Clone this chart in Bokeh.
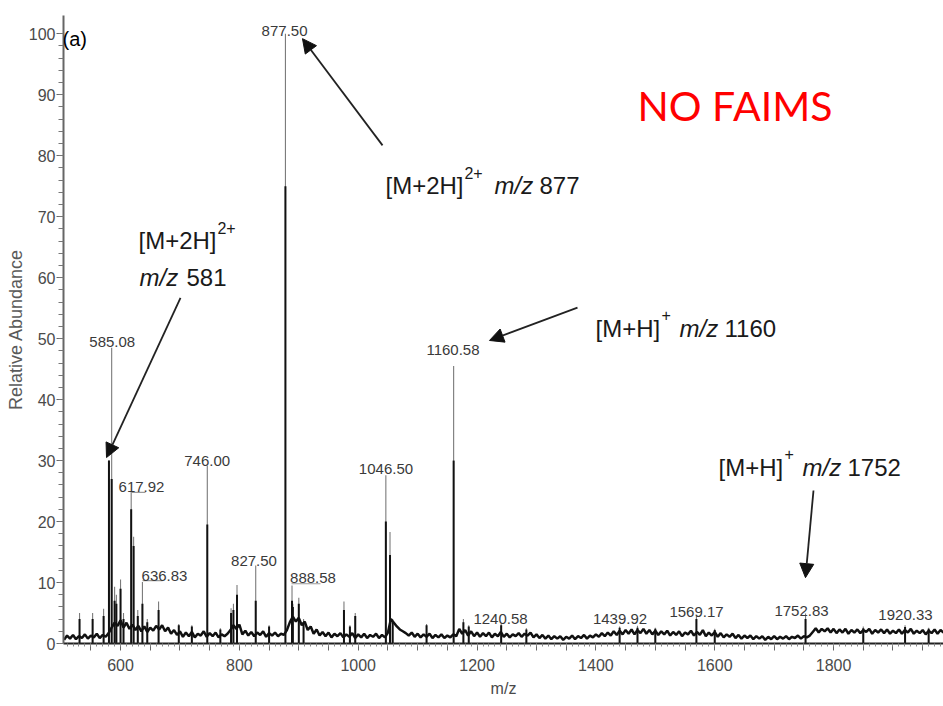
import numpy as np
from bokeh.plotting import figure
from bokeh.models import Range1d, FixedTicker, Arrow, NormalHead, Label
from bokeh.core.properties import value
from bokeh.embed import file_html
from bokeh.resources import INLINE

# ---------------- data ----------------
# baseline (noise band) sampled every 5 m/z from 505 to 1985
base_mz = np.arange(505, 1986, 5)
base_ab = [
    0.6, 1.3, 0.8, 1.4, 0.7, 1.2, 0.9, 1.5, 0.8, 1.3, 1.0, 1.6, 0.9, 1.4, 1.1, 1.7, 2.6, 3.4, 2.9, 3.8,
    2.6, 3.4, 2.4, 3.1, 2.2, 2.9, 2.0, 2.8, 1.9, 2.6, 2.1, 2.9, 2.3, 3.0, 2.0, 2.6, 1.6, 2.2, 1.4, 2.0,
    1.1, 1.8, 1.2, 1.9, 1.0, 1.6, 1.3, 2.0, 1.1, 1.7, 1.2, 1.8, 1.0, 1.5, 1.2, 1.6, 2.2, 3.0, 2.4, 3.1,
    1.5, 2.1, 1.3, 1.9, 1.2, 1.8, 1.4, 2.0, 1.1, 1.7, 1.3, 1.8, 1.2, 1.6, 1.4, 2.2, 3.5, 4.4, 3.6, 4.2,
    3.0, 3.6, 2.2, 2.8, 1.6, 2.3, 1.3, 1.9, 1.2, 1.8, 1.0, 1.6, 1.2, 1.7, 1.0, 1.5, 1.1, 1.7, 0.9, 1.5,
    1.0, 1.6, 0.9, 1.4, 1.1, 1.6, 0.9, 1.4, 1.0, 1.8, 4.0, 3.4, 2.8, 2.3, 2.0, 1.7, 1.3, 1.8, 1.1, 1.6,
    1.0, 1.5, 1.1, 1.6, 0.9, 1.4, 1.0, 1.5, 0.9, 1.3, 1.0, 1.5, 1.2, 2.4, 1.6, 2.2, 1.3, 2.0, 1.2, 1.8,
    1.1, 1.7, 1.2, 1.8, 1.0, 1.6, 1.2, 1.9, 1.1, 1.6, 1.0, 1.5, 1.2, 1.7, 1.1, 1.6, 1.3, 1.8, 1.0, 1.5,
    0.9, 1.4, 0.8, 1.3, 0.7, 1.2, 0.8, 1.2, 0.6, 1.1, 0.8, 1.3, 0.7, 1.2, 0.9, 1.4, 0.8, 1.3, 1.0, 1.5,
    1.1, 1.7, 1.2, 1.8, 1.3, 2.0, 1.4, 2.1, 1.5, 2.2, 1.6, 2.3, 1.5, 2.2, 1.7, 2.4, 1.6, 2.2, 1.5, 2.1,
    1.4, 2.0, 1.5, 2.1, 1.3, 1.9, 1.4, 2.0, 1.2, 1.8, 1.5, 2.1, 1.3, 1.9, 1.4, 2.2, 1.2, 1.8, 1.3, 1.9,
    1.1, 1.7, 1.0, 1.5, 1.1, 1.6, 0.9, 1.4, 0.8, 1.3, 0.9, 1.3, 0.7, 1.2, 0.8, 1.2, 0.6, 1.1, 0.7, 1.2,
    0.7, 1.1, 0.8, 1.2, 0.7, 1.1, 0.9, 1.3, 0.8, 1.2, 1.0, 1.3, 1.9, 2.5, 1.8, 2.4, 2.0, 2.5, 1.8, 2.4,
    1.7, 2.3, 1.8, 2.4, 1.6, 2.2, 1.8, 2.3, 1.7, 2.2, 1.9, 2.4, 1.6, 2.2, 1.8, 2.3, 1.7, 2.3, 1.6, 2.1,
    1.7, 2.3, 1.6, 2.2, 1.8, 2.4, 1.6, 2.1, 1.7, 2.2, 1.5, 2.1, 1.7, 2.3, 1.6, 2.2, 1.8,
]

# peaks: m/z, apex (thin grey tip), core (dark body)
peak_mz = [531, 553, 571.5, 580.5, 585.08, 590, 593, 600, 605, 617.92, 622, 629,
           636.83, 645, 664, 698, 720, 746.00, 768, 786, 790, 796, 827.50, 850,
           877.50, 888.58, 890, 900, 908, 976, 986, 995, 1046.50, 1053.5, 1058,
           1115, 1160.58, 1177, 1186, 1240.58, 1283, 1439.92, 1470, 1500,
           1569.17, 1600, 1752.83, 1850, 1920.33, 1960]
peak_top = [5.0, 5.0, 5.7, 30.0, 48.5, 9.3, 8.0, 10.5, 5.0, 24.7, 17.5, 5.5,
            10.1, 4.0, 6.9, 3.2, 3.0, 29.2, 2.5, 5.8, 6.5, 9.6, 12.8, 3.0,
            100.0, 9.5, 6.5, 7.5, 4.0, 6.9, 3.0, 5.0, 27.6, 18.3, 4.0,
            3.2, 45.5, 4.0, 3.0, 3.3, 2.5, 2.8, 2.9, 2.6,
            4.6, 2.4, 4.9, 2.8, 3.0, 2.6]
peak_core = [4.0, 4.0, 4.5, 30.0, 27.0, 7.0, 6.5, 9.0, 4.0, 22.0, 16.0, 4.5,
             6.5, 3.5, 5.5, 3.0, 2.8, 19.5, 2.3, 5.0, 5.5, 8.0, 7.0, 2.8,
             75.0, 7.0, 6.0, 6.5, 3.5, 5.5, 2.8, 4.5, 20.0, 14.5, 3.5,
             3.0, 30.0, 3.5, 2.8, 3.0, 2.3, 2.6, 2.6, 2.4,
             4.0, 2.2, 4.0, 2.5, 2.7, 2.4]

# peak labels: text, centre m/z, baseline abundance
lab_text = ["585.08", "617.92", "636.83", "746.00", "827.50", "877.50", "888.58",
            "1046.50", "1160.58", "1240.58", "1439.92", "1569.17", "1752.83", "1920.33"]
lab_x = [586, 635.3, 674, 745.8, 824.6, 876, 923.9,
         1046.7, 1159.5, 1239.5, 1440.6, 1569.3, 1746, 1921]
lab_y = [49.4, 25.6, 11.15, 30.0, 13.6, 100.5, 10.7,
         28.7, 48.1, 4.1, 4.1, 5.1, 5.4, 4.6]

# leader lines for offset labels
lead_x0 = [616.8, 637.0, 887.7]
lead_x1 = [642.0, 670.8, 936.5]
lead_y = [24.8, 10.3, 9.8]

# annotation arrows (tail -> head), data units
arr_x0 = [700.9, 1040.9, 1369.0, 1766.2]
arr_y0 = [56.7, 81.7, 55.1, 25.1]
arr_x1 = [576.4, 906.2, 1220.9, 1752.7]
arr_y1 = [30.5, 99.2, 49.7, 10.8]

# annotation text pieces: text, x, y, kind (n=normal, s=superscript, i=italic)
ann_text = ["[M+2H]", "2+", "m/z", "581",
            "[M+2H]", "2+", "m/z", "877",
            "[M+H]", "+", "m/z", "1160",
            "[M+H]", "+", "m/z", "1752"]
ann_x = [630.2, 763.1, 631.9, 711.0,
         1045.9, 1178.8, 1229.3, 1305.1,
         1399.3, 1510.4, 1540.7, 1616.4,
         1606.3, 1717.4, 1747.7, 1823.4]
ann_y = [66.1, 68.2, 60.0, 60.0,
         75.1, 77.2, 75.1, 75.1,
         51.7, 53.8, 51.7, 51.7,
         28.9, 31.0, 28.9, 28.9]
ann_kind = ["n", "s", "i", "n",
            "n", "s", "i", "n",
            "n", "s", "i", "n",
            "n", "s", "i", "n"]

x_major = list(range(550, 1986, 50))
x_minor = list(range(510, 1986, 10))
y_major = list(range(0, 101, 10))
y_minor = list(range(0, 101, 2))

SANS = "Liberation Sans"

# ---------------- figure ----------------
p = figure(width=943, height=706, x_range=Range1d(504, 1985), y_range=Range1d(0, 103),
           output_backend="svg", toolbar_location=None,
           min_border_left=63, min_border_right=0, min_border_top=15, min_border_bottom=63)
p.outline_line_color = None
p.xgrid.visible = False
p.ygrid.visible = False
p.background_fill_color = "white"

# spectrum
p.segment(x0=peak_mz, y0=[0] * len(peak_mz), x1=peak_mz, y1=peak_top,
          line_color="#7a7a7a", line_width=1.1)
p.segment(x0=peak_mz, y0=[0] * len(peak_mz), x1=peak_mz, y1=peak_core,
          line_color="#111111", line_width=2.0)
p.line(base_mz, base_ab, line_color="#111111", line_width=2.5)

# leader lines
p.segment(x0=lead_x0, y0=lead_y, x1=lead_x1, y1=lead_y, line_color="#9a9a9a", line_width=1.2)

# peak labels
p.text(x=lab_x, y=lab_y, text=lab_text, text_font=value(SANS), text_font_size="15px",
       text_align="center", text_baseline="alphabetic", text_color="#3a3a3a")

# arrows
for x0, y0, x1, y1 in zip(arr_x0, arr_y0, arr_x1, arr_y1):
    p.add_layout(Arrow(end=NormalHead(size=14, fill_color="#111111", line_color="#111111"),
                       x_start=x0, y_start=y0, x_end=x1, y_end=y1,
                       line_color="#222222", line_width=1.8))

# annotation texts
for t, x, y, k in zip(ann_text, ann_x, ann_y, ann_kind):
    size = "16px" if k == "s" else "24px"
    style = "italic" if k == "i" else "normal"
    p.add_layout(Label(x=x, y=y, text=t, text_font=SANS, text_font_size=size,
                       text_font_style=style, text_color="#1a1a1a",
                       text_baseline="alphabetic", text_align="left"))

p.add_layout(Label(x=502.3, y=99.2, text="(a)", text_font=SANS,
                   text_font_size="20px", text_color="#000000", text_baseline="alphabetic"))
p.add_layout(Label(x=1470.0, y=88.2, text="NO FAIMS", text_font="Lato",
                   text_font_size="41px", text_color="#ff0000", text_baseline="alphabetic"))

# axes
xa = p.xaxis[0]
xa.ticker = FixedTicker(ticks=x_major, minor_ticks=x_minor)
xa.major_label_overrides = {t: ("" if t % 200 else str(t)) for t in x_major}
xa.axis_line_color = "#222222"
xa.axis_line_width = 2
xa.major_tick_line_color = "#666666"
xa.minor_tick_line_color = "#888888"
xa.major_tick_out = 7
xa.major_tick_in = 0
xa.minor_tick_out = 3
xa.minor_tick_in = 0
xa.major_label_text_font = SANS
xa.major_label_text_font_size = "16px"
xa.major_label_text_color = "#4a4a4a"
xa.major_label_standoff = 8
xa.axis_label = "m/z"
xa.axis_label_text_font = SANS
xa.axis_label_text_font_size = "16px"
xa.axis_label_text_font_style = "normal"
xa.axis_label_text_color = "#4a4a4a"
xa.axis_label_standoff = 6

ya = p.yaxis[0]
ya.ticker = FixedTicker(ticks=y_major, minor_ticks=y_minor)
ya.axis_line_color = "#666666"
ya.axis_line_width = 2
ya.major_tick_line_color = "#666666"
ya.minor_tick_line_color = "#777777"
ya.major_tick_out = 7
ya.major_tick_in = 0
ya.minor_tick_out = 5
ya.minor_tick_in = 0
ya.major_label_text_font = SANS
ya.major_label_text_font_size = "16px"
ya.major_label_text_color = "#4a4a4a"
ya.major_label_standoff = 1
ya.axis_label = "Relative Abundance"
ya.axis_label_text_font = SANS
ya.axis_label_text_font_size = "18px"
ya.axis_label_text_font_style = "normal"
ya.axis_label_text_color = "#5a5a5a"
ya.axis_label_standoff = 0

open("out.html", "w").write(file_html(p, INLINE))
